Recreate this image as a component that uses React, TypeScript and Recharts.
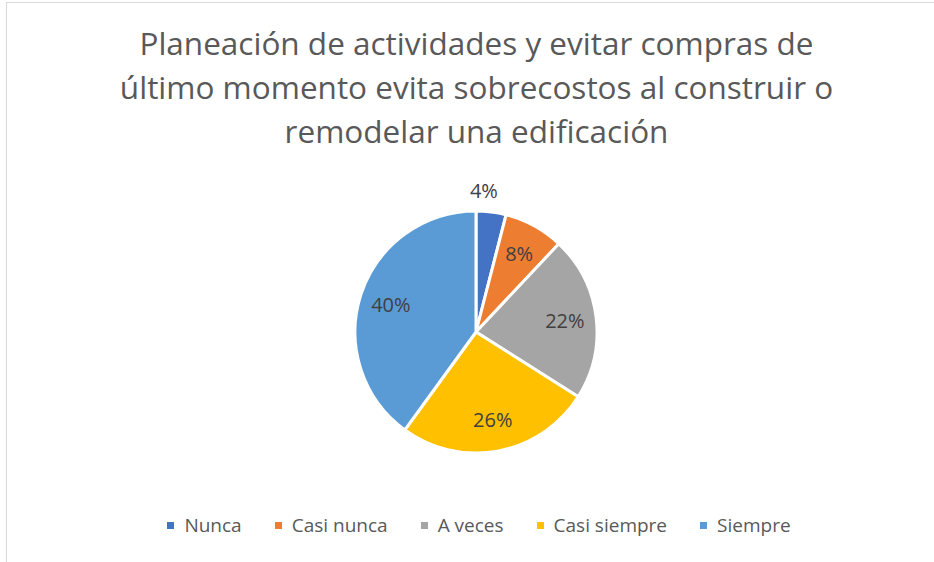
import React from 'react';
import { PieChart, Pie, Cell, Legend } from 'recharts';

const categories = ['Nunca', 'Casi nunca', 'A veces', 'Casi siempre', 'Siempre'];
const values = [4, 8, 22, 26, 40];
const colors = ['#4472C4', '#ED7D31', '#A5A5A5', '#FFC000', '#5B9BD5'];
const titleLines = [
  'Planeación de actividades y evitar compras de',
  'último momento evita sobrecostos al construir o',
  'remodelar una edificación',
];

const data = categories.map((name, i) => ({ name, value: values[i] }));

const FONT = '"Open Sans", "Noto Sans", sans-serif';
const RADIAN = Math.PI / 180;

// etiquetas: la primera (pequeña) va afuera, el resto adentro
const renderLabel = (props: any) => {
  const { cx, cy, midAngle, outerRadius, index, value } = props;
  const r = index === 0 ? outerRadius + 21 : outerRadius * 0.74;
  const ang = index === 0 ? midAngle + 4 : midAngle;
  const x = cx + r * Math.cos(-ang * RADIAN);
  const y = cy + r * Math.sin(-ang * RADIAN);
  return (
    <text
      x={x}
      y={y}
      fill="#404040"
      textAnchor="middle"
      dominantBaseline="central"
      style={{ fontFamily: FONT, fontSize: 20 }}
    >
      {`${value}%`}
    </text>
  );
};

const renderLegend = () => (
  <div
    style={{
      display: 'flex',
      justifyContent: 'center',
      alignItems: 'center',
      fontFamily: FONT,
      fontSize: 19,
      color: '#595959',
    }}
  >
    {categories.map((c, i) => (
      <div key={c} style={{ display: 'flex', alignItems: 'center', marginRight: i < categories.length - 1 ? 33 : 0 }}>
        <span style={{ width: 7, height: 7, background: colors[i], marginRight: 10, display: 'inline-block' }} />
        <span>{c}</span>
      </div>
    ))}
  </div>
);

export default function App() {
  return (
    <div style={{ position: 'fixed', left: 0, top: 0, width: 934, height: 562, background: '#fff', overflow: 'hidden' }}>
      <div
        style={{
          position: 'absolute',
          left: 6,
          top: 2,
          width: 1000,
          height: 700,
          borderLeft: '1px solid #d9d9d9',
          borderTop: '1px solid #d9d9d9',
        }}
      />
      <div
        style={{
          position: 'absolute',
          left: 0,
          top: 21,
          width: 953,
          textAlign: 'center',
          fontFamily: FONT,
          fontSize: 31.5,
          lineHeight: '44px',
          color: '#595959',
        }}
      >
        {titleLines.map(l => (
          <div key={l}>{l}</div>
        ))}
      </div>
      <div style={{ position: 'absolute', left: 0, top: 0 }}>
        <PieChart width={934} height={562} margin={{ top: 0, right: 0, bottom: 0, left: 0 }}>
          <Pie
            data={data}
            dataKey="value"
            nameKey="name"
            cx={476}
            cy={332}
            outerRadius={121}
            startAngle={90}
            endAngle={-270}
            stroke="#fff"
            strokeWidth={3}
            label={renderLabel}
            labelLine={false}
            isAnimationActive={false}
          >
            {data.map((d, i) => (
              <Cell key={d.name} fill={colors[i]} />
            ))}
          </Pie>
          <Legend content={renderLegend} wrapperStyle={{ top: 512, left: 0, width: 958 }} />
        </PieChart>
      </div>
    </div>
  );
}
